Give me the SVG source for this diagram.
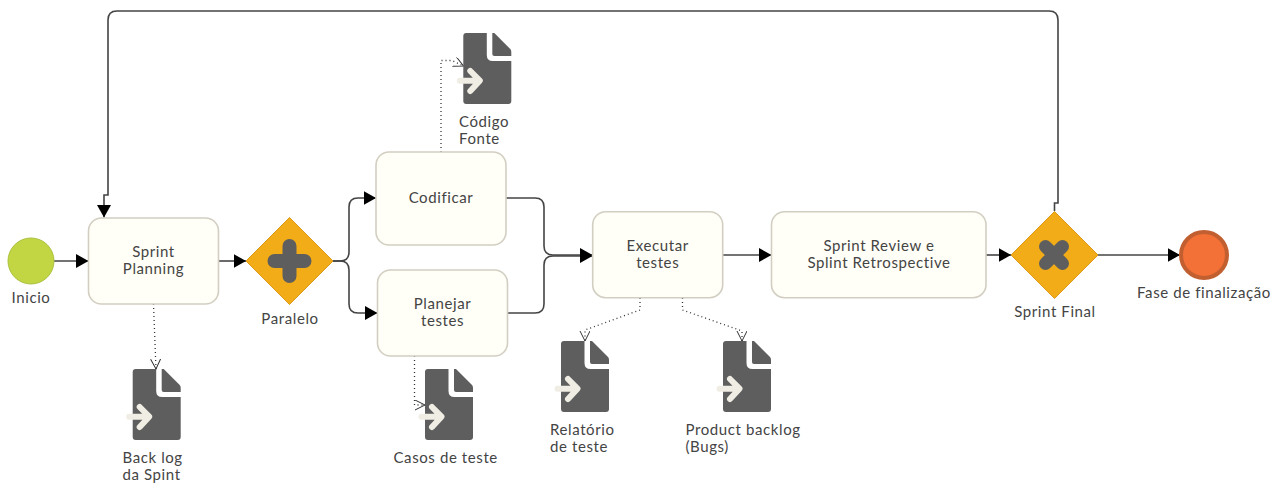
<svg xmlns="http://www.w3.org/2000/svg" xmlns:xlink="http://www.w3.org/1999/xlink" width="1282" height="484" viewBox="0 0 1282 484">
<style>
text{font-family:"Lato","Open Sans","Liberation Sans",sans-serif;font-size:15px;fill:#444;letter-spacing:.6px}
.m{text-anchor:middle}
.task{fill:#fffef7;stroke:#d2cfc2;stroke-width:1.6}
.gw{fill:#f2ac18;stroke:#dd9a1a;stroke-width:1}
.flow{fill:none;stroke:#444;stroke-width:1.6;marker-end:url(#a)}
.assoc{fill:none;stroke:#333;stroke-width:1.3;stroke-dasharray:1 3;marker-end:url(#o)}
.sym{fill:none;stroke:#5e5e5e;stroke-width:14;stroke-linecap:round}
</style>
<defs>
<marker id="a" markerUnits="userSpaceOnUse" markerWidth="14" markerHeight="15" refX="12.500" refY="7" orient="auto"><path d="M0 0L12.500 7L0 14Z" fill="#000"/></marker>
<marker id="o" markerUnits="userSpaceOnUse" markerWidth="12" markerHeight="12" refX="10" refY="5" orient="auto"><path d="M0 0L10 5L0 10" fill="none" stroke="#333" stroke-width="1"/></marker>
<g id="doc">
<path d="M3 0H23.500V22Q23.500 28 29.500 28H48V68Q48 71 45 71H3Q0 71 0 68V3Q0 0 3 0Z" fill="#5e5e5e"/>
<path d="M29 0H31L47 16Q48 17 48 19V23H31Q29 23 29 21Z" fill="#5e5e5e"/>
<path d="M-3.500 47.700H15M7 38L16.500 47.700L7 58" fill="none" stroke="#f0ede4" stroke-width="6" stroke-linecap="round" stroke-linejoin="round"/>
</g>
</defs>

<g id="connectors">
<path class="flow" d="M54 261H88.500"/>
<path class="flow" d="M218.500 261H246"/>
<path class="flow" d="M333 261H340Q349 261 349 252V207Q349 198 358 198H376"/>
<path class="flow" d="M333 261H340Q349 261 349 270V304Q349 313 358 313H377.500"/>
<path class="flow" d="M505.500 198H535Q544 198 544 207V246Q544 255 553 255H592.500"/>
<path class="flow" d="M507 313H535Q544 313 544 304V265Q544 256 553 256H592.500"/>
<path class="flow" d="M722.500 255H771.500"/>
<path class="flow" d="M986 255H1011"/>
<path class="flow" d="M1098 255H1180"/>
<path class="flow" d="M1054.500 211V203H1058V20Q1058 11 1049 11H117Q108 11 108 20V195H104V217.500"/>
<path class="assoc" d="M153.500 304L156 369"/>
<path class="assoc" d="M441 152V60.500H452L463.500 66"/>
<path class="assoc" d="M414.500 356V405H425"/>
<path class="assoc" d="M640 298V310L585 330V341"/>
<path class="assoc" d="M682.500 298V310L742 331V341"/>
</g>

<g id="start"><circle cx="31" cy="261" r="23" fill="#c2d643" stroke="#abc13d" stroke-width="1"/><text class="m" x="31" y="303">Inicio</text></g>

<g id="sprint-planning"><rect class="task" x="88.500" y="218" width="130" height="86" rx="13"/><text class="m" x="153.500" y="257">Sprint</text><text class="m" x="153.500" y="274">Planning</text></g>

<g id="paralelo"><path class="gw" d="M289.500 217.500L333 261L289.500 304.500L246 261Z"/><path class="sym" d="M289.500 246V276M274.500 261H304.500"/><text class="m" x="290" y="324">Paralelo</text></g>

<g id="codificar"><rect class="task" x="376" y="152" width="130" height="93" rx="13"/><text class="m" x="441" y="203">Codificar</text></g>

<g id="planejar"><rect class="task" x="377.500" y="270" width="130" height="86" rx="13"/><text class="m" x="442.500" y="309">Planejar</text><text class="m" x="442.500" y="326">testes</text></g>

<g id="executar"><rect class="task" x="592.700" y="211.700" width="130" height="86" rx="13"/><text class="m" x="657.700" y="251">Executar</text><text class="m" x="657.700" y="268">testes</text></g>

<g id="review"><rect class="task" x="771.500" y="211.700" width="214.500" height="86" rx="13"/><text class="m" x="879" y="251">Sprint Review e</text><text class="m" x="879" y="268">Splint Retrospective</text></g>

<g id="sprint-final"><path class="gw" d="M1054.500 211.500L1098 255L1054.500 298.500L1011 255Z"/><path class="sym" style="stroke-width:13" d="M1045.500 246.500L1062.500 263.500M1062.500 246.500L1045.500 263.500"/><text class="m" x="1055" y="317">Sprint Final</text></g>

<g id="end"><circle cx="1204" cy="255" r="23" fill="#f37036" stroke="#c25f30" stroke-width="4"/><text class="m" x="1204" y="298">Fase de finalização</text></g>

<g id="doc-backlog"><use href="#doc" xlink:href="#doc" x="132.700" y="369"/><text x="122.500" y="463">Back log</text><text x="122.500" y="480">da Spint</text></g>

<g id="doc-codigo"><use href="#doc" xlink:href="#doc" x="463.300" y="33"/><text x="459" y="127">Código</text><text x="459" y="144">Fonte</text></g>

<g id="doc-casos"><use href="#doc" xlink:href="#doc" x="425" y="369"/><text x="393.500" y="463">Casos de teste</text></g>

<g id="doc-relatorio"><use href="#doc" xlink:href="#doc" x="561" y="341"/><text x="550" y="435">Relatório</text><text x="550" y="452">de teste</text></g>

<g id="doc-product"><use href="#doc" xlink:href="#doc" x="723" y="341"/><text x="685.500" y="435">Product backlog</text><text x="685.500" y="452">(Bugs)</text></g>
</svg>
